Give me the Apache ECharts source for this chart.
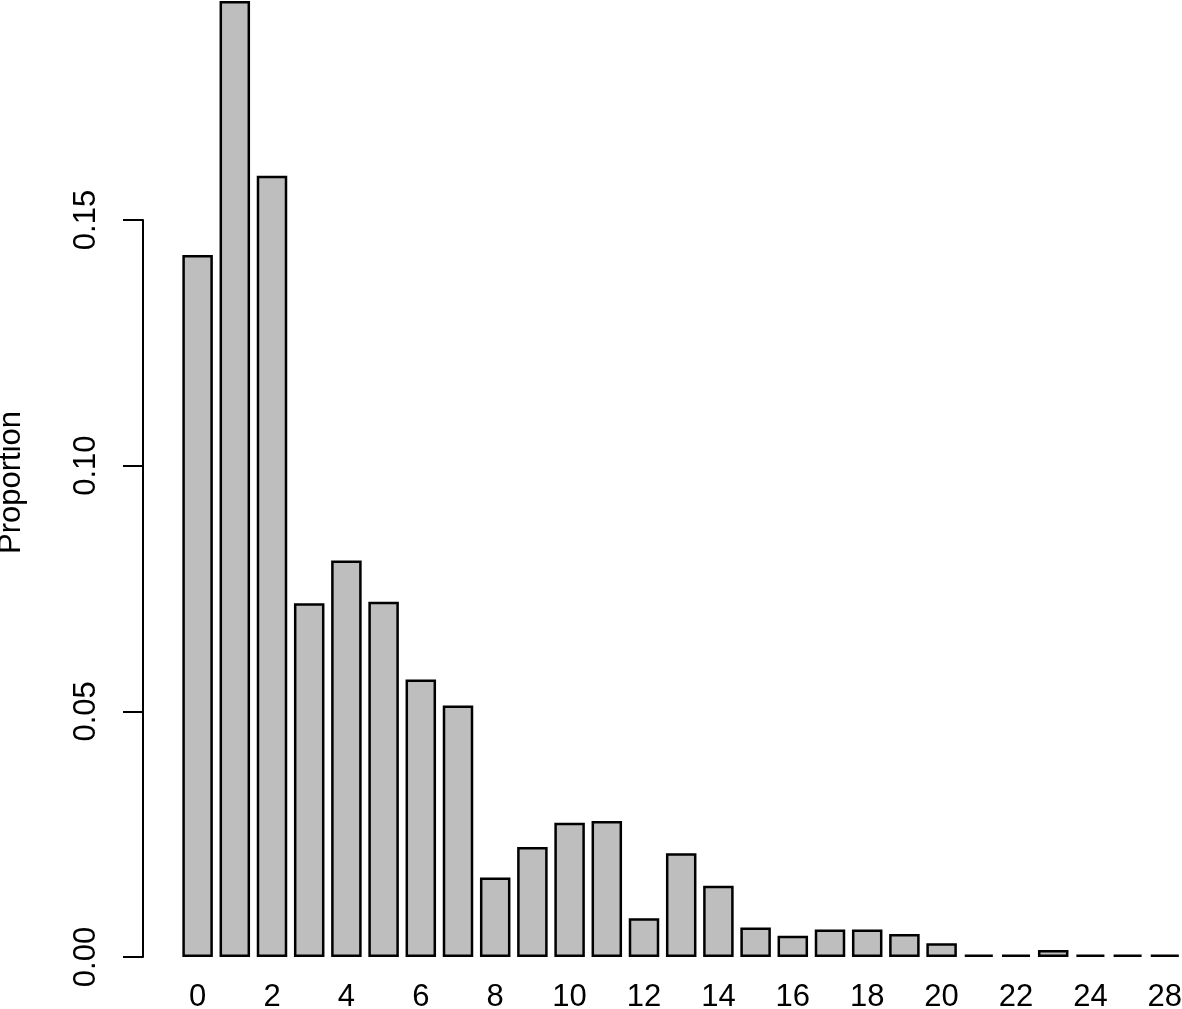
<!DOCTYPE html>
<html><head><meta charset="utf-8">
<script src="https://cdn.jsdelivr.net/npm/echarts@6/dist/echarts.min.js"></script>
<style>html,body{margin:0;padding:0;background:#fff}#c{width:1182px;height:1009px}</style>
</head><body><div id="c"></div>
<script>
const categories = ['0','1','2','3','4','5','6','7','8','9','10','11','12','13','14','15','16','17','18','19','20','21','22','23','24','25','28'];
const proportions = [0.1429, 0.1946, 0.1590, 0.0720, 0.0807, 0.0723, 0.0565, 0.0512, 0.0162, 0.0224, 0.0273, 0.0277, 0.0079, 0.0211, 0.0145, 0.0060, 0.0043, 0.0056, 0.0056, 0.0047, 0.0028, 0.0005, 0.0005, 0.0014, 0.0005, 0.0005, 0.0005];
const yTicks = [0, 0.05, 0.10, 0.15];
const yLabel = 'Proportion';

const FONT = "'Liberation Sans', Arial, Helvetica, sans-serif";
const FS = 31;
const chart = echarts.init(document.getElementById('c'), null, {renderer: 'canvas'});
chart.setOption({
  animation: false,
  backgroundColor: '#ffffff',
  textStyle: {fontFamily: FONT, color: '#000'},
  grid: [
    {left: 179, top: 0, width: 1004.4, height: 957, containLabel: false, outerBoundsMode: 'none'},
    {left: 143, top: 220, width: 10, height: 737, containLabel: false, outerBoundsMode: 'none'}
  ],
  xAxis: [
    {type: 'category', gridIndex: 0, data: categories,
     axisLine: {show: false}, axisTick: {show: false}, splitLine: {show: false},
     axisLabel: {interval: 1, fontSize: FS, color: '#000', fontFamily: FONT, margin: 25, hideOverlap: false}},
    {type: 'value', gridIndex: 1, min: 0, max: 1, show: false}
  ],
  yAxis: [
    {type: 'value', gridIndex: 0, min: 0, max: 0.19478,
     axisLine: {show: false}, axisTick: {show: false}, axisLabel: {show: false}, splitLine: {show: false},
     name: yLabel, nameLocation: 'middle', nameRotate: 90, nameGap: 152,
     nameTextStyle: {fontSize: FS, color: '#000', fontFamily: FONT, padding: [0, 8, 0, 0]}},
    {type: 'value', gridIndex: 1, min: yTicks[0], max: yTicks[yTicks.length - 1], interval: yTicks[1] - yTicks[0],
     axisLine: {show: true, lineStyle: {color: '#000', width: 2}},
     axisTick: {show: true, length: 20, lineStyle: {color: '#000', width: 2}},
     splitLine: {show: false},
     axisLabel: {rotate: 90, margin: 41, fontSize: FS, color: '#000', fontFamily: FONT,
       formatter: v => v.toFixed(2)}}
  ],
  series: [{
    type: 'bar', xAxisIndex: 0, yAxisIndex: 0, data: proportions,
    barCategoryGap: '18%',
    itemStyle: {color: '#bebebe', borderColor: '#000', borderWidth: 2.5},
    emphasis: {disabled: true}
  }]
});
</script></body></html>
